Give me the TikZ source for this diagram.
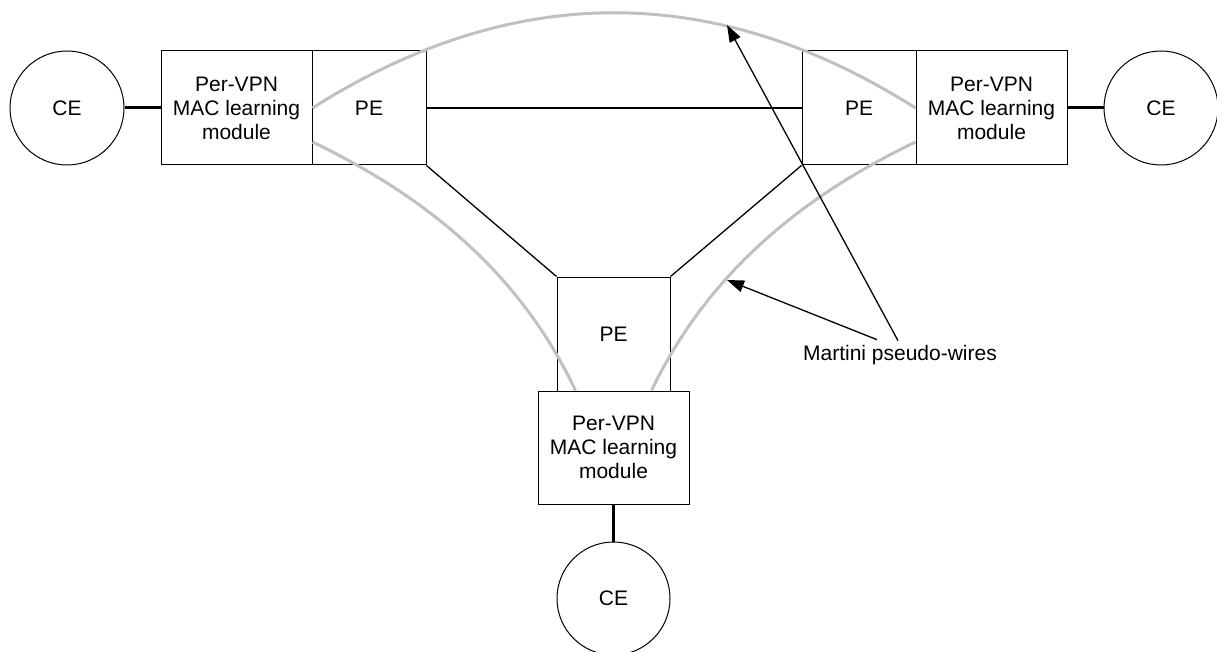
\documentclass[tikz,border=0pt]{standalone}
\usepackage{fontspec}
\setmainfont{Liberation Sans}
\usetikzlibrary{arrows.meta,calc}
\definecolor{pwgray}{RGB}{192,192,192}
\begin{document}
\begin{tikzpicture}[x=1pt,y=-1pt,
  every node/.style={font=\fontsize{21}{24}\selectfont},
  cenode/.style={draw,circle,minimum size=114pt,inner sep=0pt,line width=1pt},
  boxnode/.style={draw,rectangle,minimum height=114pt,inner sep=0pt,align=center,line width=1pt},
  linkline/.style={line width=1.3pt},
  accessline/.style={line width=3pt},
  pwline/.style={draw=pwgray,line width=3pt},
  callout/.style={line width=1.3pt,-{Triangle[length=17pt,width=12pt]}}
]
\useasboundingbox (0,0) rectangle (1217,652);

% left site
\node[cenode] (lce) at (67,108) {CE};
\node[boxnode,minimum width=151pt] (lmac) at (236.5,108) {Per-VPN\\MAC learning\\module};
\node[boxnode,minimum width=114pt] (lpe) at (369,108) {PE};

% right site
\node[boxnode,minimum width=114pt] (rpe) at (859,108) {PE};
\node[boxnode,minimum width=151pt] (rmac) at (991.5,108) {Per-VPN\\MAC learning\\module};
\node[cenode] (rce) at (1161,108) {CE};

% bottom site
\node[boxnode,minimum width=113pt] (bpe) at (613.5,334) {PE};
\node[boxnode,minimum width=151pt,minimum height=113pt] (bmac) at (613.5,447.5) {Per-VPN\\MAC learning\\module};
\node[cenode,minimum size=113pt] (bce) at (613.5,598.5) {CE};

% links
\draw[accessline] (lce) -- (lmac);
\draw[accessline] (rmac) -- (rce);
\draw[accessline] (bmac) -- (bce);
\draw[linkline] (lpe) -- (rpe);
\draw[linkline] (lpe.south east) -- (bpe.north west);
\draw[linkline] (rpe.south west) -- (bpe.north east);

% pseudo-wires
\draw[pwline] (lmac.east) .. controls (513,-19) and (715,-19) .. (rmac.west);
\draw[pwline] ($(lmac.east)+(0,34)$) .. controls (429,198) and (521,275) .. ($(bmac.north)+(-38,0)$);
\draw[pwline] ($(rmac.west)+(0,34)$) .. controls (799,198) and (707,275) .. ($(bmac.north)+(38,0)$);

% label and callouts
\node (lbl) at (900,355) {Martini pseudo-wires};
\coordinate (tipa) at (727,25);
\coordinate (tipb) at (727,280);
\draw[callout] ($(lbl.north)+(-2,-1)$) -- (tipa);
\draw[callout] ($(lbl.north)+(-23,-2)$) -- (tipb);
\end{tikzpicture}
\end{document}
